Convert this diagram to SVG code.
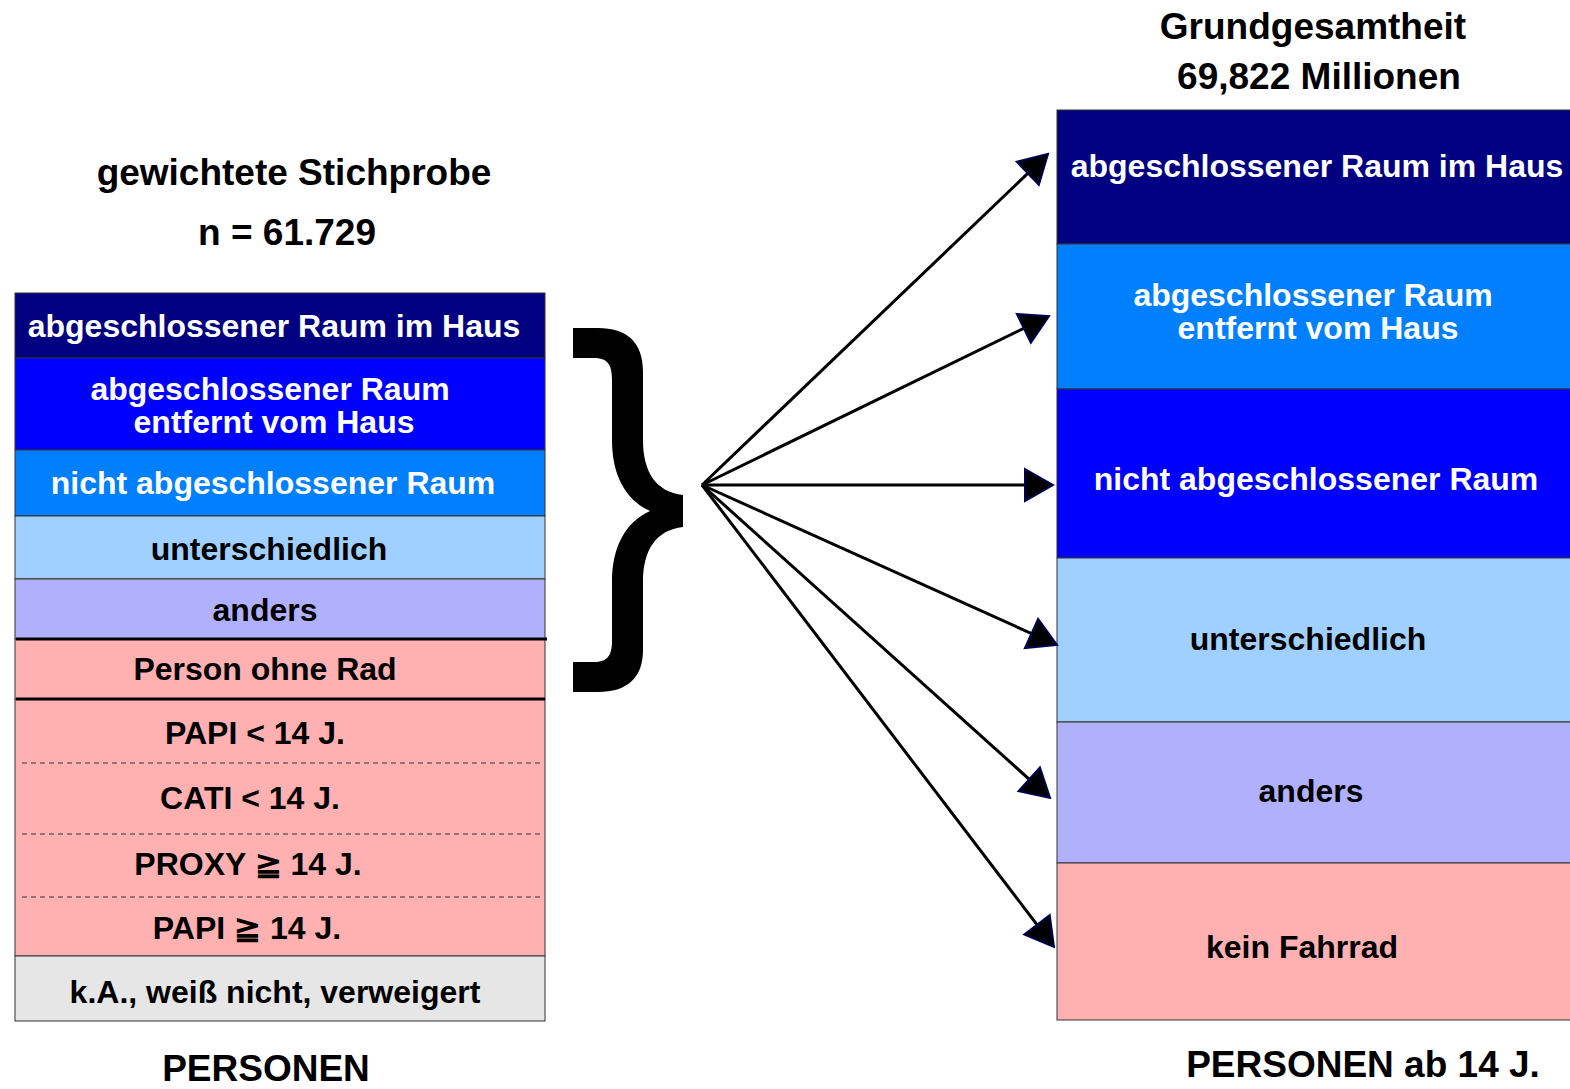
<svg xmlns="http://www.w3.org/2000/svg" width="1570" height="1089" viewBox="0 0 1570 1089">
  <style>
    text { font-family: "Liberation Sans", Arial, sans-serif; font-weight: bold; text-anchor: middle; }
    .t32 { font-size: 32px; }
    .t37 { font-size: 37px; }
    .w { fill: #ffffff; }
    .k { fill: #000000; }
    .cell { stroke: #333333; stroke-width: 1; }
    .navy { fill: #000080; }
    .blue { fill: #0000ff; }
    .mid { fill: #0080ff; }
    .light { fill: #a0d0ff; }
    .lav { fill: #b0b0fc; }
    .pink { fill: #ffb0b0; }
    .grey { fill: #e6e6e6; }
    .thick { stroke: #000000; stroke-width: 3; }
    .dash { stroke: #333333; stroke-width: 1; stroke-dasharray: 5 4; }
    .conn line { stroke: #000000; stroke-width: 3; marker-end: url(#head); }
  </style>
  <defs>
    <marker id="head" viewBox="-2 -2 32 36" refX="18" refY="16" markerWidth="32" markerHeight="36" orient="auto" markerUnits="userSpaceOnUse">
      <path d="M0,0 L28,16 L0,32 Z" fill="#000000" stroke="#000050" stroke-width="2" stroke-linejoin="miter"/>
    </marker>
  </defs>

  <rect width="1570" height="1089" fill="#ffffff"/>

  <!-- headings -->
  <g id="title-left">
    <text class="t37 k" x="294" y="185">gewichtete Stichprobe</text>
    <text class="t37 k" x="287" y="245">n = 61.729</text>
  </g>
  <g id="title-right">
    <text class="t37 k" x="1313" y="39">Grundgesamtheit</text>
    <text class="t37 k" x="1319" y="89">69,822 Millionen</text>
  </g>

  <!-- left stack: weighted sample -->
  <g id="sample-stack">
    <g id="s-raum-haus">
      <rect class="cell navy" x="15" y="293" width="530" height="65"/>
      <text class="t32 w" x="274" y="337">abgeschlossener Raum im Haus</text>
    </g>
    <g id="s-raum-entfernt">
      <rect class="cell blue" x="15" y="358" width="530" height="92"/>
      <text class="t32 w" x="270" y="400">abgeschlossener Raum</text>
      <text class="t32 w" x="274" y="433">entfernt vom Haus</text>
    </g>
    <g id="s-nicht-abg">
      <rect class="cell mid" x="15" y="450" width="530" height="66"/>
      <text class="t32 w" x="273" y="494">nicht abgeschlossener Raum</text>
    </g>
    <g id="s-unterschiedlich">
      <rect class="cell light" x="15" y="516" width="530" height="63"/>
      <text class="t32 k" x="269" y="560">unterschiedlich</text>
    </g>
    <g id="s-anders">
      <rect class="cell lav" x="15" y="579" width="530" height="60"/>
      <text class="t32 k" x="265" y="621">anders</text>
    </g>
    <g id="s-ohne-rad">
      <rect class="cell pink" x="15" y="639" width="530" height="60"/>
      <text class="t32 k" x="265" y="680">Person ohne Rad</text>
    </g>
    <g id="s-unter14">
      <rect class="cell pink" x="15" y="699" width="530" height="257"/>
      <line class="dash" x1="22" y1="763" x2="540" y2="763"/>
      <line class="dash" x1="22" y1="834" x2="540" y2="834"/>
      <line class="dash" x1="22" y1="897" x2="540" y2="897"/>
      <text class="t32 k" x="255" y="744">PAPI &lt; 14 J.</text>
      <text class="t32 k" x="250" y="809">CATI &lt; 14 J.</text>
      <text class="t32 k" x="248" y="875">PROXY ≧ 14 J.</text>
      <text class="t32 k" x="247" y="939">PAPI ≧ 14 J.</text>
    </g>
    <g id="s-ka">
      <rect class="cell grey" x="15" y="956" width="530" height="65"/>
      <text class="t32 k" x="275" y="1003">k.A., weiß nicht, verweigert</text>
    </g>
    <line class="thick" x1="16" y1="639" x2="547" y2="639"/>
    <line class="thick" x1="16" y1="699" x2="545" y2="699"/>
    <text class="t37 k" x="266" y="1081">PERSONEN</text>
  </g>

  <!-- brace grouping the upper six categories -->
  <g id="brace">
    <path fill="#000000" d="M573,328 L598,328 C627,328 643,342 643,372 L643,440 C643,472 656,492 683,495 L683,527 C656,530 643,550 643,582 L643,650 C643,678 627,692 598,692 L573,692 L573,662 L594,662 C607,662 612,656 612,641 L612,582 C612,546 626,522 650,511 C626,500 612,476 612,440 L612,379 C612,364 607,358 594,358 L573,358 Z"/>
  </g>

  <!-- right stack: population -->
  <g id="population-stack">
    <g id="p-raum-haus">
      <rect class="cell navy" x="1057" y="110" width="520" height="134"/>
      <text class="t32 w" x="1317" y="177">abgeschlossener Raum im Haus</text>
    </g>
    <g id="p-raum-entfernt">
      <rect class="cell mid" x="1057" y="244" width="520" height="145"/>
      <text class="t32 w" x="1313" y="306">abgeschlossener Raum</text>
      <text class="t32 w" x="1318" y="339">entfernt vom Haus</text>
    </g>
    <g id="p-nicht-abg">
      <rect class="cell blue" x="1057" y="389" width="520" height="169"/>
      <text class="t32 w" x="1316" y="490">nicht abgeschlossener Raum</text>
    </g>
    <g id="p-unterschiedlich">
      <rect class="cell light" x="1057" y="558" width="520" height="164"/>
      <text class="t32 k" x="1308" y="650">unterschiedlich</text>
    </g>
    <g id="p-anders">
      <rect class="cell lav" x="1057" y="722" width="520" height="141"/>
      <text class="t32 k" x="1311" y="802">anders</text>
    </g>
    <g id="p-kein-rad">
      <rect class="cell pink" x="1057" y="863" width="520" height="157"/>
      <text class="t32 k" x="1302" y="958">kein Fahrrad</text>
    </g>
    <text class="t37 k" x="1363" y="1077">PERSONEN ab 14 J.</text>
  </g>

  <!-- connectors fanning out from the brace tip -->
  <g id="connectors" class="conn">
    <line x1="702" y1="485" x2="1040.8" y2="160.9"/>
    <line x1="702" y1="485" x2="1040.0" y2="320.4"/>
    <line x1="702" y1="485" x2="1043" y2="485"/>
    <line x1="702" y1="485" x2="1047.9" y2="640.9"/>
    <line x1="702" y1="485" x2="1042.6" y2="791.3"/>
    <line x1="702" y1="485" x2="1047.9" y2="939.0"/>
  </g>
</svg>
